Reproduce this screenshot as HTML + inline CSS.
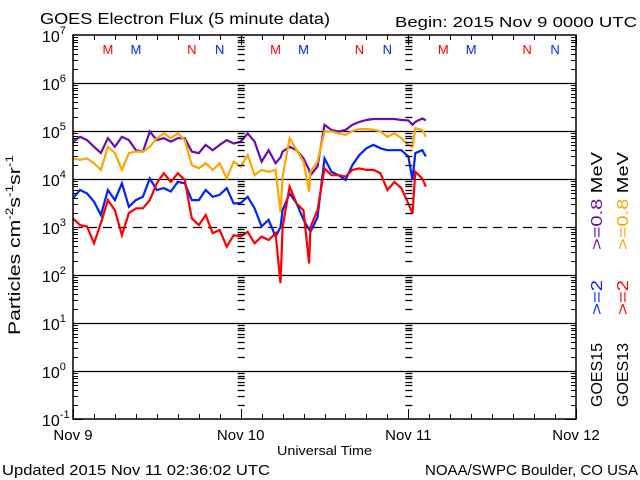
<!DOCTYPE html>
<html><head><meta charset="utf-8"><style>
html,body{margin:0;padding:0;background:#fff}
svg{display:block;font-family:"Liberation Sans",sans-serif}
</style></head><body>
<svg id="chart" width="640" height="480" viewBox="0 0 640 480" xmlns="http://www.w3.org/2000/svg">
<rect width="640" height="480" fill="#fff"/>
<text x="40" y="24" font-size="16" textLength="290" lengthAdjust="spacingAndGlyphs">GOES Electron Flux (5 minute data)</text>
<text x="395" y="27" font-size="15" textLength="242" lengthAdjust="spacingAndGlyphs">Begin: 2015 Nov 9 0000 UTC</text>
<text x="2" y="475" font-size="15" textLength="268" lengthAdjust="spacingAndGlyphs">Updated 2015 Nov 11 02:36:02 UTC</text>
<text x="425" y="475" font-size="15" textLength="213" lengthAdjust="spacingAndGlyphs">NOAA/SWPC Boulder, CO USA</text>
<text x="277" y="455" font-size="13" textLength="95" lengthAdjust="spacingAndGlyphs">Universal Time</text>
<text transform="translate(20,335) rotate(-90)" font-size="17" textLength="180" lengthAdjust="spacingAndGlyphs">Particles cm<tspan dy="-7" font-size="11">-2</tspan><tspan dy="7">s</tspan><tspan dy="-7" font-size="11">-1</tspan><tspan dy="7">sr</tspan><tspan dy="-7" font-size="11">-1</tspan></text>
<g id="grid"></g>
<g id="series"></g>
<g id="frame"></g>
<g id="labels"></g>
<g>
 <text transform="translate(602,407) rotate(-90)" font-size="16" textLength="64" lengthAdjust="spacingAndGlyphs">GOES15</text>
 <text transform="translate(602,315) rotate(-90)" font-size="16" fill="#0022ff" textLength="35" lengthAdjust="spacingAndGlyphs">&gt;=2</text>
 <text transform="translate(602,250) rotate(-90)" font-size="16" fill="#6a0dad" textLength="98" lengthAdjust="spacingAndGlyphs">&gt;=0.8 <tspan fill="#000">MeV</tspan></text>
 <text transform="translate(628,407) rotate(-90)" font-size="16" textLength="64" lengthAdjust="spacingAndGlyphs">GOES13</text>
 <text transform="translate(628,315) rotate(-90)" font-size="16" fill="#ff0000" textLength="35" lengthAdjust="spacingAndGlyphs">&gt;=2</text>
 <text transform="translate(628,250) rotate(-90)" font-size="16" fill="#ffa500" textLength="98" lengthAdjust="spacingAndGlyphs">&gt;=0.8 <tspan fill="#000">MeV</tspan></text>
</g>
</svg>
<script>
// hours since 2015 Nov 9 00:00 UTC
const hours = [0,1,2,3,4,5,6,7,8,9,10,11,12,13,14,15,16,17,18,19,20,21,22,23,24,25,26,27,28,29,29.7,30,31,32,33,33.8,34,35,36,37,38,39,40,41,42,43,44,45,46,47,48,48.6,49,50,50.5];
// log10 flux values
const goes15e08 = [4.78,4.88,4.81,4.67,4.54,4.85,4.67,4.88,4.81,4.6,4.57,4.99,4.81,4.85,4.78,4.85,4.85,4.57,4.54,4.71,4.6,4.71,4.81,4.74,4.78,4.95,4.78,4.36,4.6,4.33,4.45,4.57,4.67,4.6,4.43,4.19,4.08,4.26,5.13,5.02,4.99,5.02,5.13,5.19,5.23,5.25,5.25,5.25,5.25,5.23,5.22,5.13,5.19,5.26,5.22];
const goes13e08 = [4.43,4.4,4.43,4.33,4.19,4.67,4.54,4.19,4.54,4.57,4.57,4.67,4.85,4.95,4.85,4.95,4.81,4.29,4.22,4.33,4.19,4.33,4.01,4.36,4.26,4.5,4.08,4.19,4.15,4.19,3.3,4.05,4.85,4.6,4.36,3.74,4.15,4.36,4.99,4.99,4.95,4.92,5.0,5.04,5.04,5.03,4.99,4.88,4.95,4.85,4.71,4.67,5.06,5.02,4.88];
const goes15e2 = [3.6,3.77,3.7,3.53,3.25,3.77,3.56,3.91,3.42,3.56,3.63,4.01,3.77,3.81,3.74,3.94,3.91,3.56,3.56,3.77,3.63,3.67,3.81,3.49,3.5,3.63,3.39,3.01,3.15,2.8,3.0,3.35,3.7,3.49,3.15,2.95,2.9,3.2,4.43,4.15,4.08,3.98,4.29,4.5,4.64,4.71,4.64,4.6,4.6,4.6,4.47,3.98,4.54,4.6,4.47];
const goes13e2 = [3.18,3.04,3.01,2.66,3.08,3.56,3.35,2.83,3.29,3.39,3.39,3.56,3.91,4.12,3.94,4.12,3.98,3.18,3.04,3.25,2.87,2.94,2.59,2.83,2.8,2.9,2.66,2.8,2.73,2.87,1.83,3.0,3.84,3.49,3.35,2.24,3.0,3.35,4.22,4.08,4.08,4.05,4.19,4.22,4.19,4.19,4.12,3.77,3.94,3.81,3.49,3.28,4.15,4.01,3.84];
const decades = [-1,0,1,2,3,4,5,6,7];
const dayLabels = ["Nov 9","Nov 10","Nov 11","Nov 12"];
const markerLabels = ["M","M","N","N"];

const NS="http://www.w3.org/2000/svg";
const X0=73,X1=576,Y0=419,Y1=35;
const xScale=h=>X0+(X1-X0)*h/72;
const yScale=l=>Y0-(Y0-Y1)*(l+1)/8;
function mk(tag,attrs,parent){const e=document.createElementNS(NS,tag);for(const k in attrs)e.setAttribute(k,attrs[k]);parent.appendChild(e);return e;}
const grid=document.getElementById('grid'),frame=document.getElementById('frame'),labels=document.getElementById('labels'),series=document.getElementById('series');

decades.forEach(d=>{
  if(d===-1||d===7)return;
  const y=Math.round(yScale(d))+0.5;
  const l=mk('line',{x1:X0,x2:X1,y1:y,y2:y,stroke:'#000','stroke-width':1.3},grid);
  if(d===3)l.setAttribute('stroke-dasharray','9,6');
  
  
});
const fr=mk('rect',{x:X0,y:Y1,width:X1-X0,height:Y0-Y1,fill:'none',stroke:'#000','stroke-width':1.5},frame);


for(let d=-1;d<7;d++){
  for(let m=1;m<10;m++){
    const y=Math.round(yScale(d+Math.log10(m)))+0.5;
    const len=m===1?10:5;
    mk('line',{x1:X0,x2:X0+len,y1:y,y2:y,stroke:'#000'},frame);
    mk('line',{x1:X1-len,x2:X1,y1:y,y2:y,stroke:'#000'},frame);
    if(m>1){[24,48].forEach(h=>{const x=xScale(h);mk('line',{x1:x-3,x2:x+4,y1:y,y2:y,stroke:'#000','stroke-width':1.3},frame);});}
  }
}
for(let h=0;h<=72;h+=3){
  const x=Math.round(xScale(h))+0.5;const len=h%24===0?10:5;
  mk('line',{x1:x,x2:x,y1:Y0,y2:Y0-len,stroke:'#000'},frame);
  mk('line',{x1:x,x2:x,y1:Y1,y2:Y1+len,stroke:'#000'},frame);
}
decades.forEach(d=>{
  const y=yScale(d);
  const t=mk('text',{x:42,y:y+7,'font-size':16},labels);
  
  
  t.textContent='10';
  const s=mk('tspan',{dy:-8,'font-size':11},t);s.textContent=String(d);
});
dayLabels.forEach((s,i)=>{
  const t=mk('text',{x:xScale(i*24),y:440,'font-size':15,'text-anchor':'middle'},labels);
  
  
  t.textContent=s;
});
const markerCols=['#ff0000','#0022ff'];
for(let day=0;day<3;day++){
  markerLabels.forEach((s,i)=>{
    const off=[5,9,17,21][i];
    const t=mk('text',{x:xScale(day*24+off),y:54,'font-size':13,'text-anchor':'middle',fill:markerCols[i%2]},labels);
    
    
    t.textContent=s;
  });
}
function drawSeries(vals,color,name){
  const pts=vals.map((v,i)=>xScale(hours[i]).toFixed(1)+','+yScale(v).toFixed(1)).join(' ');
  const p=mk('polyline',{points:pts,fill:'none',stroke:color,'stroke-width':2.2,'stroke-linejoin':'miter'},series);
  
  
}
drawSeries(goes15e08,'#6a0dad','series-goes15-0.8mev');
drawSeries(goes13e08,'#ffa500','series-goes13-0.8mev');
drawSeries(goes15e2,'#0022ff','series-goes15-2mev');
drawSeries(goes13e2,'#ff0000','series-goes13-2mev');
</script>
</body></html>
